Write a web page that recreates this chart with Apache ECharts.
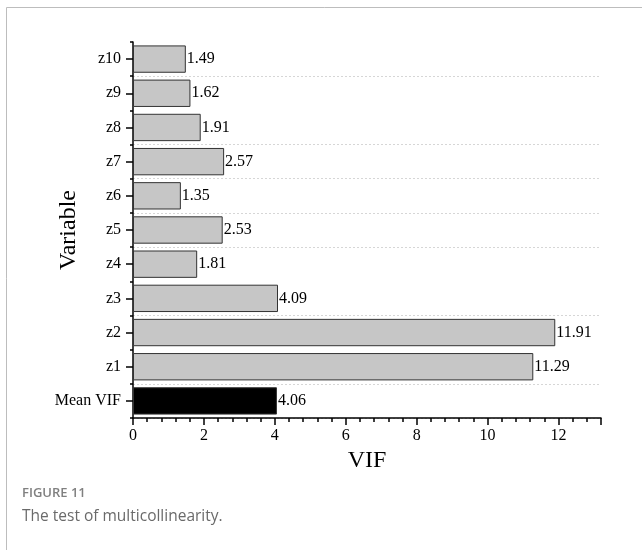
<!DOCTYPE html>
<html>
<head>
<meta charset="utf-8">
<script src="https://cdn.jsdelivr.net/npm/echarts@6/dist/echarts.min.js"></script>
<style>html,body{margin:0;padding:0;background:#fff;}#c{width:642px;height:550px;}</style>
</head>
<body>
<div id="c"></div>
<script>
var categories = ['Mean VIF','z1','z2','z3','z4','z5','z6','z7','z8','z9','z10'];
var vifValues = [4.06, 11.29, 11.91, 4.09, 1.81, 2.53, 1.35, 2.57, 1.91, 1.62, 1.49];
var xTicks = [0, 2, 4, 6, 8, 10, 12];
// dotted separators are drawn above these categories
var splitAbove = ['z9', 'z7', 'z6', 'z5', 'z4', 'z2', 'Mean VIF'];

var reversedCats = categories.slice().reverse();
var chart = echarts.init(document.getElementById('c'));
var serif = '"Liberation Serif", "Times New Roman", serif';
chart.setOption({
  animation: false,
  grid: {left: 133, top: 42, right: 41, bottom: 132},
  xAxis: {
    type: 'value', min: 0, max: 13.2, interval: 2,
    name: 'VIF', nameLocation: 'middle', nameGap: 31, nameMoveOverlap: false,
    nameTextStyle: {fontFamily: serif, fontSize: 24, color: '#000'},
    axisLine: {show: true, lineStyle: {color: '#000', width: 1.5}},
    axisTick: {show: true, length: 7, lineStyle: {color: '#000', width: 1.5}},
    minorTick: {show: true, splitNumber: 5, length: 4, lineStyle: {color: '#000', width: 1.5}},
    axisLabel: {fontFamily: serif, fontSize: 16, color: '#000', margin: 10,
      formatter: function (v) { return xTicks.indexOf(v) >= 0 ? String(v) : ''; }},
    splitLine: {show: false}
  },
  yAxis: [{
    type: 'category', data: categories,
    name: 'Variable', nameLocation: 'middle', nameGap: 52, nameRotate: 90, nameMoveOverlap: false,
    nameTextStyle: {fontFamily: serif, fontSize: 24, color: '#000'},
    axisLine: {show: true, lineStyle: {color: '#000', width: 1.5}},
    axisTick: {show: true, alignWithLabel: true, length: 7, lineStyle: {color: '#000', width: 1.5}},
    axisLabel: {fontFamily: serif, fontSize: 16, color: '#000', margin: 12},
    splitLine: {show: false}
  }, {
    type: 'category', data: reversedCats, inverse: true, position: 'left',
    axisLine: {show: false},
    axisTick: {show: true, length: 3, lineStyle: {color: '#000', width: 1.5}},
    axisLabel: {show: false},
    splitLine: {show: true,
      interval: function (i) { return splitAbove.indexOf(reversedCats[i]) >= 0; },
      lineStyle: {color: '#d6d6d6', type: [2, 2], width: 1}}
  }],
  series: [{
    type: 'bar', yAxisIndex: 0,
    data: vifValues.map(function (v, i) {
      return {value: v, itemStyle: {color: i === 0 ? '#000' : '#c6c6c6'}};
    }),
    barCategoryGap: '20%',
    itemStyle: {borderColor: '#333', borderWidth: 1},
    label: {show: true, position: 'right', distance: 1, fontFamily: serif, fontSize: 16, color: '#000',
      formatter: function (p) { return p.value.toFixed(2); }}
  }],
  graphic: [
    {type: 'line', shape: {x1: 6.5, y1: 7.5, x2: 642, y2: 7.5}, style: {stroke: '#bdbdbd', lineWidth: 1}},
    {type: 'line', shape: {x1: 6.5, y1: 7.5, x2: 6.5, y2: 550}, style: {stroke: '#bdbdbd', lineWidth: 1}},
    {type: 'text', left: 22, top: 487, style: {text: 'FIGURE 11', font: '600 13px "Open Sans", sans-serif', fill: '#808080'}},
    {type: 'text', left: 22, top: 509, style: {text: 'The test of multicollinearity.', font: '15.5px "Open Sans", sans-serif', fill: '#6a6a6a'}}
  ]
});
</script>
</body>
</html>
